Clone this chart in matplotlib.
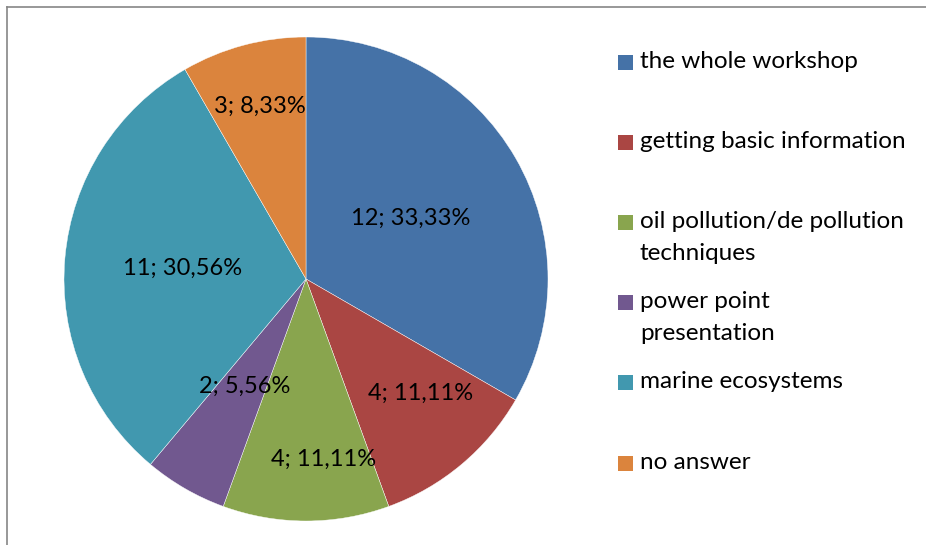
import numpy as np
import matplotlib.pyplot as plt
from matplotlib.patches import Rectangle
from matplotlib.lines import Line2D

# survey answers
categories = ["the whole workshop", "getting basic information",
              "oil pollution/de pollution\ntechniques", "power point\npresentation",
              "marine ecosystems", "no answer"]
counts = [12, 4, 4, 2, 11, 3]
pct_labels = ["33,33%", "11,11%", "11,11%", "5,56%", "30,56%", "8,33%"]
colors = ["#4572A7", "#AA4643", "#89A54E", "#71588F", "#4198AF", "#DB843D"]
label_dist = [0.50, 0.67, 0.75, 0.51, 0.51, 0.74]
label_turn = [0, 5, 5.4, 0, 0, 0]   # small angular nudges (deg) as in the Excel layout

W, H = 926, 545
fig = plt.figure(figsize=(W / 100, H / 100), dpi=100)
plt.rcParams["font.family"] = ["Lato", "DejaVu Sans"]

# pie centre / radius in pixels
cx, cy, r = 306, 279, 242
ax = fig.add_axes([(cx - r) / W, (H - cy - r) / H, 2 * r / W, 2 * r / H])
wedges, _ = ax.pie(counts, colors=colors, startangle=90, counterclock=False,
                   radius=1, wedgeprops=dict(linewidth=0.3, edgecolor="white"))
ax.set_xlim(-1, 1)
ax.set_ylim(-1, 1)
ax.set_aspect("auto")
ax.axis("off")

for w, n, p, d, t in zip(wedges, counts, pct_labels, label_dist, label_turn):
    ang = np.deg2rad((w.theta1 + w.theta2) / 2 + t)
    ax.text(d * np.cos(ang), d * np.sin(ang), f"{n}; {p}", ha="center", va="center",
            fontsize=17, color="black")

# legend drawn by hand to keep Excel's even spacing
leg_y = [62, 142, 222, 302, 382, 463]
for name, col, y in zip(categories, colors, leg_y):
    fig.patches.append(Rectangle((618 / W, (H - y - 7.5) / H), 15 / W, 15 / H,
                                 transform=fig.transFigure, facecolor=col, edgecolor="none"))
    for k, line in enumerate(name.split("\n")):
        fig.text(640 / W, (H - y - 6 - 32 * k) / H, line, ha="left", va="baseline",
                 fontsize=17.5, color="black")

# chart frame (only top and left visible in the crop)
fig.add_artist(Line2D([7 / W, 1], [1 - 7 / H, 1 - 7 / H], transform=fig.transFigure,
                      color="#868686", linewidth=1.2))
fig.add_artist(Line2D([7 / W, 7 / W], [0, 1 - 7 / H], transform=fig.transFigure,
                      color="#868686", linewidth=1.2))

fig.savefig("out.png", dpi=100)
